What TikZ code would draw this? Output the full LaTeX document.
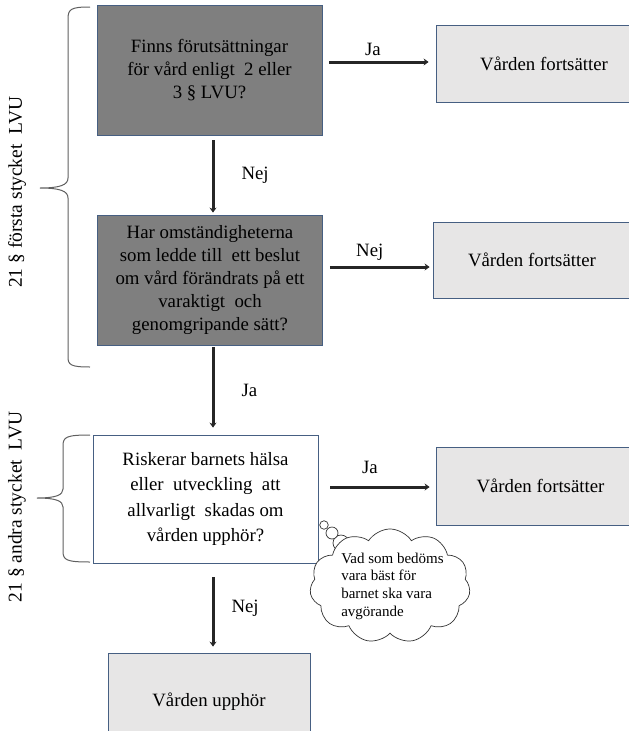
\documentclass[tikz,border=0pt]{standalone}
\usepackage{fontspec}
\setmainfont{Liberation Serif}
\usetikzlibrary{arrows.meta,shapes.symbols}
\definecolor{darkbox}{RGB}{127,127,127}
\definecolor{lightbox}{RGB}{231,230,230}
\definecolor{boxline}{RGB}{70,95,130}
\definecolor{bracegray}{RGB}{95,95,95}

\begin{document}
\begin{tikzpicture}[x=1pt,y=-1pt,
      flow/.style={draw=black!85,-{Stealth[length=5pt,width=7pt]},line width=3pt},
      box/.style={rectangle,draw=boxline,line width=0.8pt,align=center,inner sep=0pt,
        font=\fontsize{18.8}{23}\selectfont},
      ask/.style={box,fill=darkbox},
      stay/.style={box,fill=lightbox},
      lbl/.style={inner sep=0pt,font=\fontsize{18.8}{23}\selectfont},
      brc/.style={draw=bracegray,line width=1pt},
      side/.style={rotate=90,font=\fontsize{19.5}{22}\selectfont},
      bubble/.style={circle,draw=black!80,line width=0.7pt,fill=white,inner sep=0pt}]
      \useasboundingbox (0,0) rectangle (629,731);
      \clip (0,0) rectangle (629,731);

      % questions down the middle
      \node[ask,minimum width=225pt,minimum height=130pt] (q1) at (209.5,70)
        {Finns förutsättningar\\för vård enligt\ \ 2 eller\\3 § LVU?};
      \node[ask,minimum width=225pt,minimum height=130pt] (q2) at (210,280)
        {Har omständigheterna\\som ledde till\ \ ett beslut\\om vård förändrats på ett\\varaktigt\ \ och\\genomgripande sätt?};
      \node[box,fill=white,minimum width=225pt,minimum height=128pt,
        font=\fontsize{18.8}{25.5}\selectfont] (q3) at (205.5,499)
        {Riskerar barnets hälsa\\eller\ \ utveckling\ \ att\\allvarligt\ \ skadas om\\vården upphör?};
      \node[stay,minimum width=202pt,minimum height=98pt] (q4) at (209,702) {Vården upphör};

      % outcomes on the right
      \node[stay,minimum width=216pt,minimum height=77pt] (r1) at (544,63.5) {Vården fortsätter};
      \node[stay,minimum width=198pt,minimum height=76pt] (r2) at (532,260) {Vården fortsätter};
      \node[stay,minimum width=209pt,minimum height=78pt] (r3) at (540.5,486) {Vården fortsätter};

      \draw[flow,shorten <=5pt,shorten >=2pt] ([xshift=3.5pt]q1.south)
        -- node[lbl,right=27pt] {Nej} ([xshift=3pt]q2.north);
      \draw[flow,shorten <=2pt,shorten >=7pt] ([xshift=3pt]q2.south)
        -- node[lbl,right=27pt] {Ja} ([xshift=7.5pt]q3.north);
      \draw[flow,shorten <=14pt,shorten >=6pt] ([xshift=7.5pt]q3.south)
        -- node[lbl,right=17pt] {Nej} ([xshift=4pt]q4.north);

      \draw[flow,shorten <=7pt,shorten >=7pt] ([yshift=8pt]q1.east)
        -- node[lbl,above=5pt,xshift=-6pt] {Ja} ([yshift=1.5pt]r1.west);
      \draw[flow,shorten <=7pt,shorten >=3pt] ([yshift=13pt]q2.east)
        -- node[lbl,above=5pt,xshift=-8pt] {Nej} ([yshift=-7pt]r2.west);
      \draw[flow,shorten <=12pt,shorten >=6pt] ([yshift=12pt]q3.east)
        -- node[lbl,above=12pt,xshift=-7pt] {Ja} ([yshift=-1pt]r3.west);

      % thought cloud
      \node[bubble,minimum size=16pt] (b3) at (341,543) {};
      \node[cloud,draw=black!80,line width=0.7pt,fill=white,cloud puffs=11,cloud puff arc=115,
        cloud ignores aspect,minimum width=150pt,minimum height=107pt,inner sep=0pt,
        align=left,font=\fontsize{15}{17.7}\selectfont] (idea) at (390,586)
        {\hspace*{5pt}Vad som bedöms\\\hspace*{5pt}vara bäst för\\\hspace*{5pt}barnet ska vara\\\hspace*{5pt}avgörande};
      \node[bubble,minimum size=12pt] (b2) at (332,533) {};
      \node[bubble,minimum size=8.5pt] (b1) at (324,525) {};

      % braces and paragraph labels
      \draw[brc] (90,7) .. controls (71,7) and (68,9) .. (68,19) -- (68,178)
        .. controls (68,185) and (60,188) .. (40,188)
        .. controls (60,188) and (68,191) .. (68,198) -- (68,357)
        .. controls (68,365) and (71,367) .. (90,367);
      \draw[brc] (90,435) .. controls (66,435) and (63,437) .. (63,446) -- (63,489)
        .. controls (63,495) and (56,498) .. (37,498)
        .. controls (56,498) and (63,501) .. (63,507) -- (63,551)
        .. controls (63,560) and (66,562) .. (90,562);
      \node[side] (s1) at (17,192) {21 § första stycket\ \ LVU};
      \node[side] (s2) at (17,507) {21 § andra stycket\ \ LVU};
\end{tikzpicture}
\end{document}
